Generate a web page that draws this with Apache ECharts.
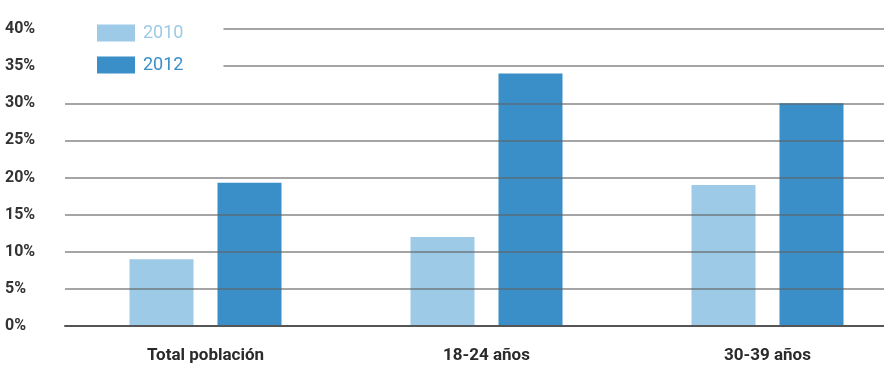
<!DOCTYPE html>
<html>
<head>
<meta charset="utf-8">
<script src="https://cdn.jsdelivr.net/npm/echarts@6/dist/echarts.min.js"></script>
<style>
  html, body { margin: 0; padding: 0; background: #fff; }
  #chart { width: 884px; height: 372px; }
</style>
</head>
<body>
<div id="chart"></div>
<script>
// Age groups and share (%) for each year
const categories = ['Total población', '18-24 años', '30-39 años'];
const values2010 = [9, 12, 19];
const values2012 = [19.3, 34, 30];
const yTicks = ['0%', '5%', '10%', '15%', '20%', '25%', '30%', '35%', '40%'];

const colors = { y2010: '#9dcae6', y2012: '#3b8fc8' };
const font = "'Roboto', 'Liberation Sans', sans-serif";

const chart = echarts.init(document.getElementById('chart'));
chart.setOption({
  animation: false,
  backgroundColor: '#fff',
  grid: {
    left: 65, width: 843, top: 29, bottom: 46,
    containLabel: false,
    outerBoundsMode: 'none'
  },
  legend: {
    orient: 'vertical',
    left: 64,
    top: 15,
    padding: [9, 40, 9, 33],
    backgroundColor: '#fff',
    z: 10,
    itemWidth: 38,
    itemHeight: 17,
    itemGap: 14,
    icon: 'rect',
    selectedMode: false,
    textStyle: { fontFamily: font, fontSize: 18, padding: [0, 0, 0, 3] },
    data: [
      { name: '2010', textStyle: { color: colors.y2010 } },
      { name: '2012', textStyle: { color: colors.y2012 } }
    ]
  },
  xAxis: {
    type: 'category',
    data: categories,
    axisLine: { lineStyle: { color: '#555', width: 2 } },
    axisTick: { show: false },
    axisLabel: {
      margin: 21,
      color: '#2a2a2a',
      fontFamily: font,
      fontWeight: 'bold',
      fontSize: 17
    },
    z: 5
  },
  yAxis: {
    type: 'value',
    min: 0,
    max: 40,
    interval: 5,
    z: 5,
    axisLine: { show: false },
    axisTick: { show: false },
    splitLine: { lineStyle: { color: 'rgba(95,95,95,0.75)', width: 1.5 } },
    axisLabel: {
      margin: 14,
      align: 'left',
      padding: [0, 0, 0, -46],
      color: '#333',
      fontFamily: font,
      fontWeight: 'bold',
      fontSize: 16,
      formatter: (v) => yTicks[Math.round(v / 5)]
    }
  },
  series: [
    {
      name: '2010',
      type: 'bar',
      data: values2010,
      barWidth: 64,
      barGap: '37.5%',
      itemStyle: { color: colors.y2010 },
      z: 2
    },
    {
      name: '2012',
      type: 'bar',
      data: values2012,
      barWidth: 64,
      barGap: '37.5%',
      itemStyle: { color: colors.y2012 },
      z: 2
    }
  ]
});
</script>
</body>
</html>
